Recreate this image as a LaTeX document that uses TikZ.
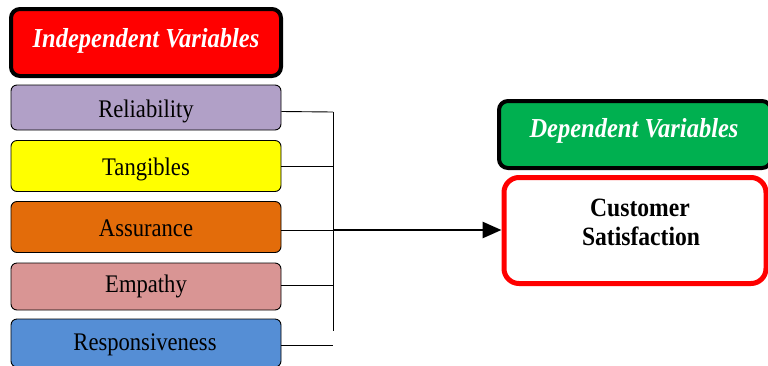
\documentclass[tikz,border=0pt]{standalone}
\usepackage{fontspec}
\setmainfont{Liberation Serif}
\usetikzlibrary{arrows.meta,calc}
\definecolor{hdrred}{HTML}{FF0000}
\definecolor{hdrgreen}{HTML}{00B050}
\definecolor{lav}{HTML}{B1A0C7}
\definecolor{yel}{HTML}{FFFF00}
\definecolor{org}{HTML}{E36C0A}
\definecolor{pnk}{HTML}{D99594}
\definecolor{blu}{HTML}{558ED5}
\newcommand{\vstr}[1]{\scalebox{1}[1.12]{#1}}
\tikzset{
  itembox/.style={draw=black, line width=0.9pt, rounded corners=6pt, minimum width=270pt, inner sep=0pt},
  hdrbox/.style={draw=black, line width=4pt, rounded corners=9pt, inner sep=0pt},
  itemtxt/.style={anchor=base, font=\fontsize{22.6}{26}\selectfont, inner sep=0pt},
  hdrtxt/.style={anchor=base, text=white, font=\fontsize{24.5}{28}\selectfont\bfseries\itshape, inner sep=0pt},
  cstxt/.style={anchor=base, font=\fontsize{23.6}{29}\selectfont\bfseries, inner sep=0pt},
  bus/.style={line width=0.9pt}
}
\begin{document}
\begin{tikzpicture}[x=1pt,y=-1pt]
\useasboundingbox (0,0) rectangle (768,365);
% headers
\node[hdrbox, fill=hdrred, minimum width=270pt, minimum height=67pt] (ih) at (146,42.5) {};
\node[hdrtxt] (iht) at (146,47) {\vstr{Independent Variables}};
\node[hdrbox, fill=hdrgreen, minimum width=272pt, minimum height=67pt] (dh) at (635,134.5) {};
\node[hdrtxt] (dht) at (634,137) {\vstr{Dependent Variables}};
% items
\node[itembox, fill=lav, minimum height=45pt] (rel) at (146,107.5) {};
\node[itemtxt] at (146,117) {\vstr{Reliability}};
\node[itembox, fill=yel, minimum height=51pt] (tan) at (146,166) {};
\node[itemtxt] at (146,175) {\vstr{Tangibles}};
\node[itembox, fill=org, minimum height=51pt] (ass) at (146,227) {};
\node[itemtxt] at (146,236) {\vstr{Assurance}};
\node[itembox, fill=pnk, minimum height=47pt] (emp) at (146,286.5) {};
\node[itemtxt] at (146,292) {\vstr{Empathy}};
\node[itembox, fill=blu, minimum height=48pt] (res) at (146,343) {};
\node[itemtxt] at (145,350.5) {\vstr{Responsiveness}};
% customer satisfaction
\node[draw=hdrred, fill=white, line width=5pt, rounded corners=15pt, minimum width=262pt, minimum height=106pt, inner sep=0pt] (cs) at (635,230.5) {};
\node[cstxt] at (640,216) {\vstr{Customer}};
\node[cstxt] at (641,245) {\vstr{Satisfaction}};
% bus
\coordinate (bt) at (333,112);
\coordinate (bb) at (333,331);
\draw[bus] (bt) -- (bb);
\draw[bus] ($(rel.east)+(0,4)$) -- (bt);
\draw[bus] (tan.east) -- (tan.east -| bt);
\draw[bus] ($(ass.east)+(0,3)$) -- ($(ass.east -| bt)+(0,3)$);
\draw[bus] ($(emp.east)+(0,-1.5)$) -- ($(emp.east -| bt)+(0,-1.5)$);
\draw[bus] ($(res.east)+(0,2)$) -- ($(res.east -| bt)+(0,2)$);
% arrow
\coordinate (as) at (333,230);
\draw[line width=2.8pt, -{Triangle[length=19pt,width=16pt]}] (as) -- (as -| cs.west);
\end{tikzpicture}
\end{document}
